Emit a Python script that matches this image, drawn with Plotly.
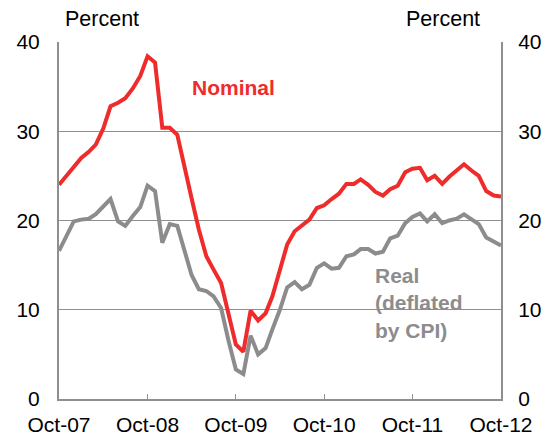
import plotly.graph_objects as go
import pandas as pd

months = pd.date_range("2007-10-01", "2012-10-01", freq="MS").strftime("%Y-%m-%d").tolist()

nominal = [24.0, 25.0, 26.0, 27.0, 27.7, 28.5, 30.3, 32.8, 33.2, 33.7, 34.8, 36.2,
           38.4, 37.7, 30.4, 30.4, 29.6, 26.0, 22.5, 19.0, 16.0, 14.5, 13.0, 9.5,
           6.1, 5.3, 9.9, 8.8, 9.6, 11.5, 14.3, 17.3, 18.8, 19.4, 20.1, 21.4,
           21.7, 22.4, 23.0, 24.1, 24.1, 24.6, 24.0, 23.2, 22.8, 23.5, 23.9, 25.4,
           25.8, 25.9, 24.5, 25.0, 24.1, 24.9, 25.6, 26.3, 25.6, 25.0, 23.3, 22.8,
           22.7]
real = [16.6, 18.3, 19.9, 20.1, 20.2, 20.7, 21.6, 22.4, 19.9, 19.4, 20.5, 21.5,
        23.9, 23.3, 17.5, 19.6, 19.4, 16.6, 13.9, 12.3, 12.1, 11.5, 10.2, 6.5,
        3.3, 2.8, 7.1, 5.0, 5.7, 7.8, 10.0, 12.5, 13.1, 12.3, 12.8, 14.7,
        15.2, 14.6, 14.7, 16.0, 16.2, 16.8, 16.8, 16.3, 16.5, 18.0, 18.3, 19.7,
        20.4, 20.8, 19.9, 20.7, 19.7, 20.0, 20.2, 20.7, 20.2, 19.6, 18.1, 17.7,
        17.2]

x_tickvals = ["2007-10-01", "2008-10-01", "2009-10-01", "2010-10-01", "2011-10-01", "2012-10-01"]
x_ticktext = ["Oct-07", "Oct-08", "Oct-09", "Oct-10", "Oct-11", "Oct-12"]
y_ticks = [0, 10, 20, 30, 40]

RED = "#EE2C2C"
GRAY = "#8C8C8E"
AXIS = "#8F8F8F"
FONT = "Liberation Sans, Arial, sans-serif"

fig = go.Figure()
fig.add_trace(go.Scatter(x=months, y=real, mode="lines", line=dict(color=GRAY, width=4),
                         showlegend=False, hoverinfo="skip"))
fig.add_trace(go.Scatter(x=months, y=nominal, mode="lines", line=dict(color=RED, width=4),
                         showlegend=False, hoverinfo="skip", yaxis="y2"))

# the page body has an 8px default margin, so the figure is sized to fit the window
fig.update_layout(
    width=545, height=427,
    margin=dict(l=51, r=52, t=34, b=36),
    paper_bgcolor="white", plot_bgcolor="white",
    font=dict(family=FONT, size=21, color="black"),
    xaxis=dict(
        type="date", range=["2007-10-01", "2012-10-01"],
        tickvals=x_tickvals, ticktext=x_ticktext,
        ticks="inside", ticklen=5, tickcolor=AXIS, tickwidth=1,
        showline=True, linecolor=AXIS, linewidth=2, mirror=False,
        showgrid=False, zeroline=False, ticklabelstandoff=6, automargin=False,
    ),
    yaxis=dict(
        range=[0, 40], tickvals=y_ticks, ticks="", showgrid=True,
        gridcolor=AXIS, gridwidth=1, showline=True, linecolor=AXIS, linewidth=2,
        zeroline=False, ticklabelstandoff=13, automargin=False,
    ),
    yaxis2=dict(
        range=[0, 40], tickvals=y_ticks, ticks="", overlaying="y", side="right",
        showgrid=False, showline=True, linecolor=AXIS, linewidth=2,
        zeroline=False, ticklabelstandoff=11, automargin=False,
    ),
    annotations=[
        dict(text="Percent", xref="paper", yref="paper", x=0.009, y=1.0, yshift=9,
             xanchor="left", yanchor="bottom", showarrow=False, font=dict(size=21.5)),
        dict(text="Percent", xref="paper", yref="paper", x=0.957, y=1.0, yshift=9,
             xanchor="right", yanchor="bottom", showarrow=False, font=dict(size=21.5)),
        dict(text="<b>Nominal</b>", xref="x", yref="y", x="2009-09-20", y=34.9,
             xanchor="center", yanchor="middle", showarrow=False,
             font=dict(size=21, color=RED)),
        dict(text="<b>Real<br>(deflated<br>by CPI)</b>", xref="x", yref="y", x="2011-04-20", y=10.8,
             xanchor="left", yanchor="middle", align="left", showarrow=False,
             font=dict(size=21, color=GRAY)),
    ],
)

fig.write_html("out.html")
